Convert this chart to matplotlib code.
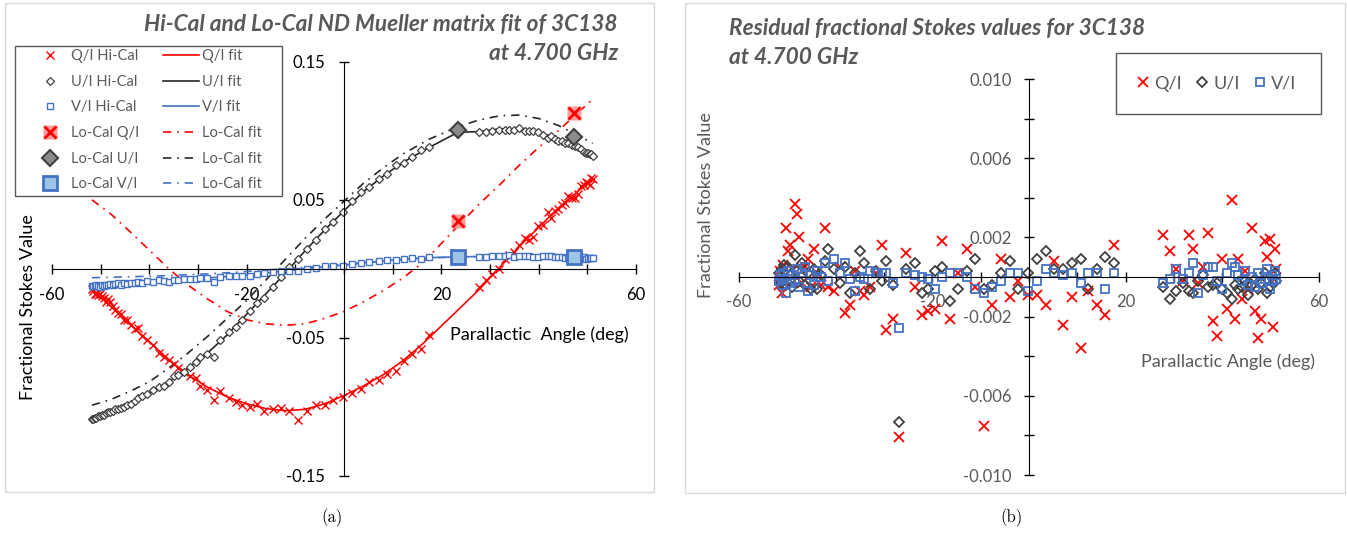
import matplotlib.pyplot as plt
import matplotlib.patches as mpatches
import numpy as np

plt.rcParams['font.family'] = ['Lato', 'DejaVu Sans']

# parallactic angles of the Hi-Cal points (deg)
pa = [-51.8, -51.5, -51.2, -50.9, -50.6, -50.2, -49.8, -49.4, -49.0, -48.5,
      -48.0, -47.5, -47.0, -46.4, -45.8, -45.2, -44.5, -43.8, -43.0, -42.3,
      -41.5, -40.4, -39.2, -38.1, -37.0, -36.0, -35.0, -34.1, -32.9, -31.7,
      -30.5, -29.5, -28.2, -26.8, -25.4, -23.6, -22.2, -21.0, -19.4, -17.9,
      -16.4, -14.6, -12.9, -11.2, -9.4, -7.6, -5.8, -3.9, -2.2, -0.3,
      1.6, 3.5, 5.2, 7.1, 8.8, 10.7, 12.3, 14.0, 15.8, 17.5,
      27.8, 29.2, 30.5, 31.9, 33.0, 34.0, 35.0, 36.0, 37.1, 38.0,
      38.8, 39.9, 40.9, 41.9, 42.6, 43.3, 44.0, 44.7, 45.4, 46.1,
      46.8, 47.4, 48.1, 48.8, 49.3, 49.8, 50.2, 50.5, 50.8, 51.1]

# Hi-Cal measured fractional Stokes values
q_hi = [-0.015, -0.016, -0.018, -0.018, -0.019, -0.018, -0.020, -0.021, -0.024, -0.022,
        -0.024, -0.027, -0.030, -0.032, -0.033, -0.037, -0.037, -0.041, -0.044, -0.043,
        -0.049, -0.052, -0.055, -0.061, -0.064, -0.066, -0.069, -0.072, -0.075, -0.078,
        -0.079, -0.085, -0.088, -0.095, -0.089, -0.094, -0.097, -0.099, -0.100, -0.098,
        -0.103, -0.102, -0.101, -0.103, -0.110, -0.103, -0.099, -0.099, -0.095, -0.093,
        -0.090, -0.087, -0.082, -0.081, -0.076, -0.074, -0.067, -0.062, -0.058, -0.048,
        -0.013, -0.008, -0.004, 0.000, 0.007, 0.010, 0.012, 0.017, 0.022, 0.021,
        0.023, 0.031, 0.032, 0.041, 0.037, 0.042, 0.043, 0.046, 0.048, 0.053,
        0.051, 0.051, 0.054, 0.060, 0.061, 0.063, 0.062, 0.061, 0.066, 0.065]
u_hi = [-0.109, -0.109, -0.108, -0.108, -0.107, -0.107, -0.106, -0.106, -0.105, -0.104,
        -0.104, -0.103, -0.102, -0.102, -0.101, -0.100, -0.099, -0.098, -0.096, -0.094,
        -0.092, -0.091, -0.088, -0.086, -0.085, -0.082, -0.078, -0.077, -0.075, -0.071,
        -0.068, -0.064, -0.062, -0.064, -0.052, -0.046, -0.042, -0.037, -0.031, -0.025,
        -0.021, -0.013, -0.006, 0.001, 0.007, 0.014, 0.021, 0.029, 0.034, 0.041,
        0.049, 0.056, 0.059, 0.065, 0.069, 0.075, 0.077, 0.081, 0.086, 0.088,
        0.099, 0.099, 0.100, 0.101, 0.101, 0.101, 0.101, 0.102, 0.100, 0.100,
        0.100, 0.099, 0.097, 0.095, 0.096, 0.094, 0.093, 0.093, 0.091, 0.091,
        0.090, 0.089, 0.088, 0.087, 0.085, 0.084, 0.084, 0.083, 0.083, 0.082]
v_hi = [-0.0127, -0.0123, -0.0127, -0.0121, -0.0123, -0.0129, -0.0117, -0.0122, -0.0117, -0.0118,
        -0.0111, -0.0119, -0.0111, -0.0106, -0.0117, -0.0107, -0.0110, -0.0102, -0.0103, -0.0094,
        -0.0102, -0.0089, -0.0093, -0.0085, -0.0091, -0.0094, -0.0085, -0.0083, -0.0076, -0.0074,
        -0.0071, -0.0069, -0.0070, -0.0095, -0.0058, -0.0054, -0.0051, -0.0049, -0.0049, -0.0037,
        -0.0029, -0.0023, -0.0018, -0.0018, -0.0013, -0.0003, 0.0007, 0.0017, 0.0022, 0.0019,
        0.0031, 0.0044, 0.0048, 0.0055, 0.0061, 0.0062, 0.0072, 0.0075, 0.0071, 0.0083,
        0.0086, 0.0088, 0.0094, 0.0089, 0.0092, 0.0097, 0.0082, 0.0091, 0.0094, 0.0094,
        0.0087, 0.0082, 0.0089, 0.0093, 0.0091, 0.0086, 0.0083, 0.0087, 0.0080, 0.0083,
        0.0077, 0.0084, 0.0078, 0.0079, 0.0083, 0.0073, 0.0079, 0.0076, 0.0080, 0.0076]

# residuals (measured - fit) for panel (b)
q_res = [-0.0004, 0.0003, -0.0008, 0.0006, -0.0002, 0.0025, 0.0013, 0.0016, 0.0004, 0.0037,
         0.0032, 0.0020, -0.0003, 0.0005, 0.0009, -0.0005, 0.0014, 0.0002, -0.0004, 0.0025,
         -0.0005, -0.0007, 0.0005, -0.0018, -0.0014, 0.0003, -0.0007, -0.0009, -0.0005, 0.0002,
         0.0016, -0.0027, -0.0021, -0.0081, 0.0012, -0.0005, -0.0019, -0.0017, -0.0016, 0.0018,
         -0.0021, 0.0002, 0.0014, -0.0005, -0.0075, -0.0014, 0.0009, -0.0010, -0.0002, -0.0009,
         -0.0009, -0.0014, 0.0008, -0.0024, -0.0010, -0.0036, -0.0007, -0.0014, -0.0019, 0.0016,
         0.0021, 0.0013, 0.0004, -0.0002, 0.0021, 0.0014, -0.0003, 0.0005, 0.0022, -0.0022,
         -0.0030, 0.0009, -0.0016, 0.0039, -0.0021, 0.0009, -0.0011, 0.0003, -0.0006, 0.0025,
         -0.0017, -0.0031, -0.0021, 0.0018, 0.0010, 0.0019, -0.0002, -0.0025, 0.0014, 0.0004]
u_res = [0.0002, -0.0003, 0.0004, -0.0002, 0.0006, -0.0004, 0.0005, 0.0001, -0.0005, 0.0011,
         0.0003, -0.0002, 0.0007, -0.0004, 0.0002, -0.0006, 0.0004, -0.0006, 0.0001, 0.0008,
         0.0014, 0.0004, -0.0003, 0.0005, -0.0008, 0.0002, 0.0013, 0.0007, -0.0006, 0.0003,
         -0.0002, 0.0008, -0.0004, -0.0073, 0.0004, 0.0007, -0.0008, -0.0006, 0.0003, 0.0005,
         -0.0012, -0.0006, 0.0003, 0.0009, -0.0006, -0.0004, 0.0002, 0.0008, -0.0006, 0.0002,
         0.0009, 0.0013, 0.0004, 0.0004, 0.0007, 0.0009, -0.0006, 0.0004, 0.0010, 0.0007,
         -0.0005, -0.0011, -0.0007, -0.0003, -0.0007, -0.0008, -0.0002, 0.0001, -0.0005, -0.0004,
         -0.0003, -0.0006, -0.0008, -0.0011, -0.0004, -0.0006, -0.0005, -0.0002, -0.0009, -0.0004,
         -0.0001, -0.0006, -0.0003, 0.0002, -0.0008, -0.0005, 0.0001, -0.0003, 0.0002, -0.0002]
v_res = [-0.0002, 0.0001, -0.0004, 0.0002, -0.0001, -0.0008, 0.0003, -0.0003, 0.0001, -0.0002,
         0.0004, -0.0005, 0.0002, 0.0005, -0.0007, 0.0001, -0.0004, 0.0003, 0.0000, 0.0007,
         -0.0002, 0.0009, 0.0002, 0.0007, -0.0001, -0.0007, 0.0000, -0.0001, 0.0003, 0.0002,
         0.0002, 0.0002, -0.0003, -0.0026, 0.0002, 0.0001, 0.0000, -0.0001, -0.0006, 0.0000,
         0.0002, 0.0002, 0.0000, -0.0006, -0.0008, -0.0005, -0.0002, 0.0002, 0.0002, -0.0007,
         -0.0002, 0.0004, 0.0002, 0.0001, 0.0002, -0.0003, 0.0002, 0.0002, -0.0006, 0.0002,
         -0.0003, -0.0001, 0.0004, -0.0001, 0.0002, 0.0007, -0.0008, 0.0001, 0.0005, 0.0005,
         -0.0002, -0.0006, 0.0002, 0.0007, 0.0005, 0.0001, -0.0002, 0.0003, -0.0004, 0.0000,
         -0.0005, 0.0002, -0.0003, -0.0001, 0.0004, -0.0006, 0.0001, -0.0002, 0.0003, -0.0001]

# Mueller matrix fit curves (Hi-Cal and Lo-Cal solutions)
pa_fit = [-51.8, -48, -44, -40, -36, -32, -28, -24, -20, -16, -12, -8, -4, 0,
          4, 8, 12, 16, 17.5, 23.4, 27.8, 32, 36, 40, 44, 48, 51.1]
q_fit = [-0.015, -0.027, -0.040, -0.053, -0.066, -0.077, -0.086, -0.093, -0.098, -0.1015,
         -0.103, -0.102, -0.098, -0.092, -0.085, -0.077, -0.067, -0.055, -0.050, -0.030,
         -0.015, 0.001, 0.016, 0.030, 0.044, 0.056, 0.065]
u_fit = [-0.109, -0.104, -0.098, -0.090, -0.082, -0.072, -0.061, -0.048, -0.033, -0.018,
         -0.003, 0.013, 0.028, 0.042, 0.056, 0.067, 0.077, 0.085, 0.088, 0.099,
         0.0995, 0.1015, 0.1015, 0.099, 0.094, 0.088, 0.082]
v_fit = [-0.0125, -0.0115, -0.0105, -0.0097, -0.0087, -0.0077, -0.0067, -0.0056, -0.0045, -0.0030,
         -0.0015, 0.0001, 0.0015, 0.0027, 0.0042, 0.0057, 0.0069, 0.0078, 0.0081, 0.0086,
         0.0089, 0.0090, 0.0090, 0.0088, 0.0085, 0.0081, 0.0077]
q_lofit = [0.050, 0.040, 0.027, 0.0135, 0.000, -0.012, -0.022, -0.031, -0.037, -0.040,
           -0.041, -0.040, -0.036, -0.031, -0.024, -0.016, -0.007, 0.004, 0.009, 0.031,
           0.047, 0.061, 0.075, 0.088, 0.100, 0.113, 0.123]
u_lofit = [-0.099, -0.095, -0.089, -0.082, -0.072, -0.061, -0.049, -0.036, -0.023, -0.008,
           0.007, 0.022, 0.036, 0.049, 0.062, 0.073, 0.083, 0.091, 0.094, 0.103,
           0.108, 0.111, 0.1115, 0.109, 0.104, 0.097, 0.091]
v_lofit = [-0.0065, -0.0062, -0.0058, -0.0054, -0.0049, -0.0043, -0.0037, -0.0029, -0.0020, -0.0010,
           0.0000, 0.0011, 0.0021, 0.0031, 0.0043, 0.0056, 0.0067, 0.0076, 0.0079, 0.0085,
           0.0088, 0.0089, 0.0089, 0.0088, 0.0086, 0.0083, 0.0080]

# Lo-Cal measurements
pa_lo = [23.4, 47.3]
q_lo = [0.0345, 0.113]
u_lo = [0.1005, 0.0956]
v_lo = [0.0084, 0.0084]

x_ticks = [-60, -50, -40, -30, -20, -10, 0, 10, 20, 30, 40, 50, 60]
x_labels = ['-60', '', '', '', '-20', '', '', '', '20', '', '', '', '60']
y1_ticks = [-0.15, -0.05, 0.05, 0.15]
y1_labels = ['-0.15', '-0.05', '0.05', '0.15']
y2_ticks = [-0.010, -0.008, -0.006, -0.004, -0.002, 0.0, 0.002, 0.004, 0.006, 0.008, 0.010]
y2_labels = ['-0.010', '', '-0.006', '', '-0.002', '', '0.002', '', '0.006', '', '0.010']

RED = '#ff0000'
BLK = '#404040'
BLUE = '#4472c4'
GRAY = '#595959'
W, H = 1347, 533

fig = plt.figure(figsize=(W / 100, H / 100), dpi=100)


def ftxt(px, py, s, **kw):
    fig.text(px / W, 1 - py / H, s, **kw)


def box(x0, y0, x1, y1, color, lw=1):
    fig.add_artist(mpatches.Rectangle((x0 / W, 1 - y1 / H), (x1 - x0) / W, (y1 - y0) / H,
                                      transform=fig.transFigure, fill=False,
                                      edgecolor=color, lw=lw))


def setup(ax, yt, yl, color, pad):
    for s in ['top', 'right']:
        ax.spines[s].set_visible(False)
    ax.spines['left'].set_position(('data', 0))
    ax.spines['bottom'].set_position(('data', 0))
    ax.set_xticks(x_ticks)
    ax.set_xticklabels(x_labels)
    ax.set_yticks(yt)
    ax.set_yticklabels(yl)
    ax.tick_params(direction='inout', length=7, width=1, labelsize=12,
                   labelcolor=color, pad=pad)
    ax.patch.set_alpha(0)


# panel frames
box(5, 3, 654, 492, '#d9d9d9')
box(685, 3, 1345, 493, '#d9d9d9')

# ---- panel (a)
ax1 = fig.add_axes([52 / W, 1 - 475.5 / H, 584 / W, 413.5 / H])
ax1.set_xlim(-60, 60)
ax1.set_ylim(-0.15, 0.15)
setup(ax1, y1_ticks, y1_labels, 'black', 10)

dd = (5, 3.5, 1, 3.5)
lf_q, = ax1.plot(pa_fit, q_fit, color=RED, lw=1.2)
lf_u, = ax1.plot(pa_fit, u_fit, color='#262626', lw=1.2)
lf_v, = ax1.plot(pa_fit, v_fit, color=BLUE, lw=1.2)
lo_q, = ax1.plot(pa_fit, q_lofit, color=RED, lw=1.2, dashes=dd)
lo_u, = ax1.plot(pa_fit, u_lofit, color='#262626', lw=1.2, dashes=dd)
lo_v, = ax1.plot(pa_fit, v_lofit, color=BLUE, lw=1.2, dashes=dd)

mq, = ax1.plot(pa, q_hi, ls='none', marker='x', ms=6, mew=1, color=RED)
mu, = ax1.plot(pa, u_hi, ls='none', marker='D', ms=4.2, mew=0.9, mfc='white', mec=BLK)
mv, = ax1.plot(pa, v_hi, ls='none', marker='s', ms=5, mew=1, mfc='white', mec=BLUE)

bq1, = ax1.plot(pa_lo, q_lo, ls='none', marker='s', ms=10.5, mfc='#ff9b9b', mec='none', zorder=5)
bq2, = ax1.plot(pa_lo, q_lo, ls='none', marker='x', ms=8.5, mew=2, color=RED, zorder=6)
bu, = ax1.plot(pa_lo, u_lo, ls='none', marker='D', ms=8.5, mew=1.5, mfc='#8c8c8c', mec=BLK, zorder=5)
bv, = ax1.plot(pa_lo, v_lo, ls='none', marker='s', ms=10.5, mew=2, mfc='#9dc3e6', mec=BLUE, zorder=5)

handles = [mq, mu, mv, (bq1, bq2), bu, bv, lf_q, lf_u, lf_v, lo_q, lo_u, lo_v]
labels = ['Q/I Hi-Cal', 'U/I Hi-Cal', 'V/I Hi-Cal', 'Lo-Cal Q/I', 'Lo-Cal U/I', 'Lo-Cal V/I',
          'Q/I fit', 'U/I fit', 'V/I fit', 'Lo-Cal fit', 'Lo-Cal fit', 'Lo-Cal fit']
box(15, 46, 282, 196, GRAY)
fig.legend(handles, labels, ncol=2, loc='upper left', bbox_to_anchor=(32 / W, 1 - 49 / H),
           frameon=False, fontsize=10.5, labelcolor=GRAY,
           handlelength=2.45, handletextpad=0.25, columnspacing=1.6, labelspacing=0.8,
           borderpad=0, borderaxespad=0)

ftxt(618, 25, 'Hi-Cal and Lo-Cal ND Mueller matrix fit of 3C138', ha='right', va='center',
     fontsize=16.3, fontweight='bold', fontstyle='italic', color=GRAY)
ftxt(618, 54, 'at 4.700 GHz', ha='right', va='center',
     fontsize=16.3, fontweight='bold', fontstyle='italic', color=GRAY)
ftxt(450, 335, 'Parallactic  Angle (deg)', ha='left', va='center', fontsize=13, color='black')
ftxt(28, 307, 'Fractional Stokes Value', rotation=90, ha='center', va='center',
     fontsize=13, color='black')

# ---- panel (b)
ax2 = fig.add_axes([739 / W, 1 - 475 / H, 580 / W, 396 / H])
ax2.set_xlim(-60, 60)
ax2.set_ylim(-0.010, 0.010)
setup(ax2, y2_ticks, y2_labels, GRAY, 9)

rq, = ax2.plot(pa, q_res, ls='none', marker='x', ms=6.5, mew=1.3, color=RED)
ru, = ax2.plot(pa, u_res, ls='none', marker='D', ms=4.6, mew=1.3, mfc='none', mec=BLK)
rv, = ax2.plot(pa, v_res, ls='none', marker='s', ms=6.2, mew=1.3, mfc='none', mec=BLUE)

box(1116, 53, 1321, 114, GRAY)
fig.legend([rq, ru, rv], ['Q/I', 'U/I', 'V/I'], ncol=3, loc='center left',
           bbox_to_anchor=(1136 / W, 1 - 83.5 / H), frameon=False,
           fontsize=13, labelcolor=GRAY, handlelength=0.78,
           handletextpad=0.22, columnspacing=0.75, borderpad=0, borderaxespad=0)

ftxt(729, 28, 'Residual fractional Stokes values for 3C138', ha='left', va='center',
     fontsize=16.3, fontweight='bold', fontstyle='italic', color=GRAY)
ftxt(729, 57, 'at 4.700 GHz', ha='left', va='center',
     fontsize=16.3, fontweight='bold', fontstyle='italic', color=GRAY)
ftxt(1141, 362, 'Parallactic Angle (deg)', ha='left', va='center', fontsize=13, color=GRAY)
ftxt(706, 205, 'Fractional Stokes Value', rotation=90, ha='center', va='center',
     fontsize=13, color=GRAY)

# captions
ftxt(332, 518, '(a)', ha='center', va='center', fontsize=12, family='cmr10')
ftxt(1012, 518, '(b)', ha='center', va='center', fontsize=12, family='cmr10')

fig.savefig('out.png', dpi=100)
